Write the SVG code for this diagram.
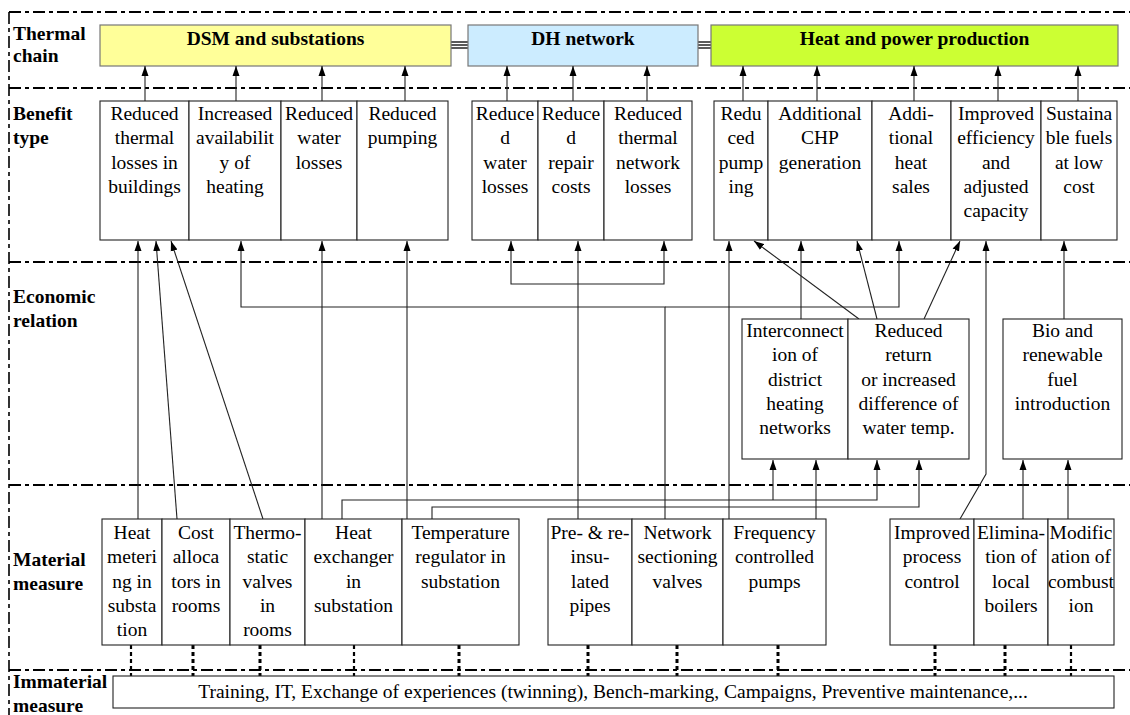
<svg xmlns="http://www.w3.org/2000/svg" width="1130" height="715" viewBox="0 0 1130 715" font-family="'Liberation Serif','Times New Roman',Times,serif">
<style>
text{font-family:"Liberation Serif","Times New Roman",Times,serif;font-size:19.5px;fill:#000}
.lbl{font-weight:bold}
.hd{font-weight:bold;text-anchor:middle}
.c{text-anchor:middle}
.sep{stroke:#000;stroke-width:2;stroke-dasharray:12 4 4 4;fill:none}
.vsep{stroke:#000;stroke-width:1.6;stroke-dasharray:12 4 4 4;fill:none}
.box{fill:#fff;stroke:#222;stroke-width:1.1}
.hbox{stroke:#777;stroke-width:1.2}
.ar{stroke:#222;stroke-width:1.1;fill:none;marker-end:url(#ah)}
.dot{stroke:#000;stroke-width:3;stroke-dasharray:4 3;fill:none}
.dbl{stroke:#000;stroke-width:1.3}
</style>
<defs>
<marker id="ah" markerUnits="userSpaceOnUse" markerWidth="10" markerHeight="8" refX="10" refY="4" orient="auto">
<path d="M0,0.5 L10,4 L0,7.5 z" fill="#000"/>
</marker>
</defs>
<rect width="1130" height="715" fill="#fff"/>

<g id="frame">
<path class="sep" d="M9,12 H1130"/>
<path class="sep" d="M9,88 H1130"/>
<path class="sep" d="M9,262 H1130"/>
<path class="sep" d="M9,485 H1130"/>
<path class="sep" d="M9,670 H1130"/>
<path class="vsep" d="M9,12 V715"/>
</g>

<g id="row-labels">
<text class="lbl" x="13" y="40">Thermal</text>
<text class="lbl" x="13" y="62">chain</text>
<text class="lbl" x="13" y="120">Benefit</text>
<text class="lbl" x="13" y="144">type</text>
<text class="lbl" x="13" y="303">Economic</text>
<text class="lbl" x="13" y="327">relation</text>
<text class="lbl" x="13" y="566">Material</text>
<text class="lbl" x="13" y="590">measure</text>
<text class="lbl" x="13" y="688">Immaterial</text>
<text class="lbl" x="13" y="712">measure</text>
</g>

<g id="hdr-links">
<line class="dbl" x1="451" y1="42" x2="468" y2="42"/>
<line class="dbl" x1="451" y1="45" x2="468" y2="45"/>
<line class="dbl" x1="451" y1="48" x2="468" y2="48"/>
<line class="dbl" x1="698" y1="42" x2="711" y2="42"/>
<line class="dbl" x1="698" y1="45" x2="711" y2="45"/>
<line class="dbl" x1="698" y1="48" x2="711" y2="48"/>
</g>
<g id="hdr-dsm">
<rect class="hbox" x="100" y="25" width="351" height="41" fill="#FFFF99"/>
<text class="hd" x="275.5" y="45">DSM and substations</text>
</g>
<g id="hdr-dh">
<rect class="hbox" x="468" y="25" width="230" height="41" fill="#CCECFF"/>
<text class="hd" x="583" y="45">DH network</text>
</g>
<g id="hdr-hp">
<rect class="hbox" x="711" y="25" width="407" height="41" fill="#CCFF33"/>
<text class="hd" x="914.5" y="45">Heat and power production</text>
</g>

<g id="connectors">
<path class="ar" d="M145,101 V66"/>
<path class="ar" d="M236,101 V66"/>
<path class="ar" d="M322,101 V66"/>
<path class="ar" d="M405,101 V66"/>
<path class="ar" d="M507,101 V66"/>
<path class="ar" d="M573,101 V66"/>
<path class="ar" d="M647,101 V66"/>
<path class="ar" d="M743,101 V66"/>
<path class="ar" d="M817,101 V66"/>
<path class="ar" d="M914,101 V66"/>
<path class="ar" d="M998,101 V66"/>
<path class="ar" d="M1078,101 V66"/>

<path class="ar" d="M138,519 V241"/>
<path class="ar" d="M177,519 L156,241"/>
<path class="ar" d="M263,519 L171,241"/>
<path class="ar" d="M665,519 V307 H241 V241"/>
<path class="ar" d="M665,307 H899 V241"/>
<path class="ar" d="M322,519 V241"/>
<path class="ar" d="M407,519 V241"/>
<path class="ar" d="M578,519 V241"/>
<path class="ar" d="M578,284 H511 V241"/>
<path class="ar" d="M578,284 H664 V241"/>
<path class="ar" d="M729,519 V241"/>
<path class="ar" d="M801,319 V241"/>
<path class="ar" d="M859,319 L754,241"/>
<path class="ar" d="M877,319 L857,241"/>
<path class="ar" d="M924,319 L960,241"/>
<path class="ar" d="M960,519 L986,474 V241"/>
<path class="ar" d="M1064,319 V241"/>

<path class="ar" d="M342,519 V500 H877 V460"/>
<path class="ar" d="M773,500 V460"/>
<path class="ar" d="M432,519 V507 H919 V460"/>
<path class="ar" d="M816,519 V460"/>
<path class="ar" d="M1023,519 V460"/>
<path class="ar" d="M1068,519 V460"/>

<path class="dot" d="M131,645 V676" style="stroke-width:2.2"/>
<path class="dot" d="M193,645 V676"/>
<path class="dot" d="M260,645 V676"/>
<path class="dot" d="M354,645 V676" style="stroke-width:2.2"/>
<path class="dot" d="M459,645 V676"/>
<path class="dot" d="M588,645 V676"/>
<path class="dot" d="M677,645 V676"/>
<path class="dot" d="M778,645 V676"/>
<path class="dot" d="M935,645 V676"/>
<path class="dot" d="M1005,645 V676"/>
<path class="dot" d="M1071,645 V676" style="stroke-width:2.2"/>
</g>

<g id="b-thermal-bldg"><rect class="box" x="100" y="101" width="89" height="139"/>
<text class="c"><tspan x="144.5" y="120">Reduced</tspan><tspan x="144.5" y="144.3">thermal</tspan><tspan x="144.5" y="168.6">losses in</tspan><tspan x="144.5" y="192.9">buildings</tspan></text></g>
<g id="b-availability"><rect class="box" x="189" y="101" width="92" height="139"/>
<text class="c"><tspan x="235" y="120">Increased</tspan><tspan x="235" y="144.3">availabilit</tspan><tspan x="235" y="168.6">y of</tspan><tspan x="235" y="192.9">heating</tspan></text></g>
<g id="b-water-dsm"><rect class="box" x="281" y="101" width="76" height="139"/>
<text class="c"><tspan x="319" y="120">Reduced</tspan><tspan x="319" y="144.3">water</tspan><tspan x="319" y="168.6">losses</tspan></text></g>
<g id="b-pumping-dsm"><rect class="box" x="357" y="101" width="91" height="139"/>
<text class="c"><tspan x="402.5" y="120">Reduced</tspan><tspan x="402.5" y="144.3">pumping</tspan></text></g>

<g id="b-water-dh"><rect class="box" x="472" y="101" width="66" height="139"/>
<text class="c"><tspan x="505" y="120">Reduce</tspan><tspan x="505" y="144.3">d</tspan><tspan x="505" y="168.6">water</tspan><tspan x="505" y="192.9">losses</tspan></text></g>
<g id="b-repair"><rect class="box" x="538" y="101" width="66" height="139"/>
<text class="c"><tspan x="571" y="120">Reduce</tspan><tspan x="571" y="144.3">d</tspan><tspan x="571" y="168.6">repair</tspan><tspan x="571" y="192.9">costs</tspan></text></g>
<g id="b-thermal-net"><rect class="box" x="604" y="101" width="88" height="139"/>
<text class="c"><tspan x="648" y="120">Reduced</tspan><tspan x="648" y="144.3">thermal</tspan><tspan x="648" y="168.6">network</tspan><tspan x="648" y="192.9">losses</tspan></text></g>

<g id="b-pumping-hp"><rect class="box" x="714" y="101" width="54" height="139"/>
<text class="c"><tspan x="741" y="120">Redu</tspan><tspan x="741" y="144.3">ced</tspan><tspan x="741" y="168.6">pump</tspan><tspan x="741" y="192.9">ing</tspan></text></g>
<g id="b-chp"><rect class="box" x="768" y="101" width="104" height="139"/>
<text class="c"><tspan x="820" y="120">Additional</tspan><tspan x="820" y="144.3">CHP</tspan><tspan x="820" y="168.6">generation</tspan></text></g>
<g id="b-heat-sales"><rect class="box" x="872" y="101" width="79" height="139"/>
<text class="c"><tspan x="911" y="120">Addi-</tspan><tspan x="911" y="144.3">tional</tspan><tspan x="911" y="168.6">heat</tspan><tspan x="911" y="192.9">sales</tspan></text></g>
<g id="b-efficiency"><rect class="box" x="951" y="101" width="90" height="139"/>
<text class="c"><tspan x="996" y="120">Improved</tspan><tspan x="996" y="144.3">efficiency</tspan><tspan x="996" y="168.6">and</tspan><tspan x="996" y="192.9">adjusted</tspan><tspan x="996" y="217.2">capacity</tspan></text></g>
<g id="b-fuels"><rect class="box" x="1041" y="101" width="76" height="139"/>
<text class="c"><tspan x="1079" y="120">Sustaina</tspan><tspan x="1079" y="144.3">ble fuels</tspan><tspan x="1079" y="168.6">at low</tspan><tspan x="1079" y="192.9">cost</tspan></text></g>

<g id="e-interconnection"><rect class="box" x="742" y="319" width="106" height="140"/>
<text class="c"><tspan x="795" y="337">Interconnect</tspan><tspan x="795" y="361.3">ion of</tspan><tspan x="795" y="385.6">district</tspan><tspan x="795" y="409.9">heating</tspan><tspan x="795" y="434.2">networks</tspan></text></g>
<g id="e-return-temp"><rect class="box" x="848" y="319" width="121" height="140"/>
<text class="c"><tspan x="908.5" y="337">Reduced</tspan><tspan x="908.5" y="361.3">return</tspan><tspan x="908.5" y="385.6">or increased</tspan><tspan x="908.5" y="409.9">difference of</tspan><tspan x="908.5" y="434.2">water temp.</tspan></text></g>
<g id="e-bio"><rect class="box" x="1003" y="319" width="119" height="140"/>
<text class="c"><tspan x="1062.5" y="337">Bio and</tspan><tspan x="1062.5" y="361.3">renewable</tspan><tspan x="1062.5" y="385.6">fuel</tspan><tspan x="1062.5" y="409.9">introduction</tspan></text></g>

<g id="m-metering"><rect class="box" x="102" y="519" width="60" height="126"/>
<text class="c"><tspan x="132" y="539">Heat</tspan><tspan x="132" y="563.3">meteri</tspan><tspan x="132" y="587.6">ng in</tspan><tspan x="132" y="611.9">substa</tspan><tspan x="132" y="636.2">tion</tspan></text></g>
<g id="m-cost"><rect class="box" x="162" y="519" width="68" height="126"/>
<text class="c"><tspan x="196" y="539">Cost</tspan><tspan x="196" y="563.3">alloca</tspan><tspan x="196" y="587.6">tors in</tspan><tspan x="196" y="611.9">rooms</tspan></text></g>
<g id="m-thermostatic"><rect class="box" x="230" y="519" width="75" height="126"/>
<text class="c"><tspan x="267.5" y="539">Thermo-</tspan><tspan x="267.5" y="563.3">static</tspan><tspan x="267.5" y="587.6">valves</tspan><tspan x="267.5" y="611.9">in</tspan><tspan x="267.5" y="636.2">rooms</tspan></text></g>
<g id="m-exchanger"><rect class="box" x="305" y="519" width="97" height="126"/>
<text class="c"><tspan x="353.5" y="539">Heat</tspan><tspan x="353.5" y="563.3">exchanger</tspan><tspan x="353.5" y="587.6">in</tspan><tspan x="353.5" y="611.9">substation</tspan></text></g>
<g id="m-regulator"><rect class="box" x="402" y="519" width="117" height="126"/>
<text class="c"><tspan x="460.5" y="539">Temperature</tspan><tspan x="460.5" y="563.3">regulator in</tspan><tspan x="460.5" y="587.6">substation</tspan></text></g>

<g id="m-pipes"><rect class="box" x="548" y="519" width="84" height="126"/>
<text class="c"><tspan x="590" y="539">Pre- &amp; re-</tspan><tspan x="590" y="563.3">insu-</tspan><tspan x="590" y="587.6">lated</tspan><tspan x="590" y="611.9">pipes</tspan></text></g>
<g id="m-valves"><rect class="box" x="632" y="519" width="91" height="126"/>
<text class="c"><tspan x="677.5" y="539">Network</tspan><tspan x="677.5" y="563.3">sectioning</tspan><tspan x="677.5" y="587.6">valves</tspan></text></g>
<g id="m-pumps"><rect class="box" x="723" y="519" width="103" height="126"/>
<text class="c"><tspan x="774.5" y="539">Frequency</tspan><tspan x="774.5" y="563.3">controlled</tspan><tspan x="774.5" y="587.6">pumps</tspan></text></g>

<g id="m-process"><rect class="box" x="890" y="519" width="84" height="126"/>
<text class="c"><tspan x="932" y="539">Improved</tspan><tspan x="932" y="563.3">process</tspan><tspan x="932" y="587.6">control</tspan></text></g>
<g id="m-boilers"><rect class="box" x="974" y="519" width="74" height="126"/>
<text class="c"><tspan x="1011" y="539">Elimina-</tspan><tspan x="1011" y="563.3">tion of</tspan><tspan x="1011" y="587.6">local</tspan><tspan x="1011" y="611.9">boilers</tspan></text></g>
<g id="m-combustion"><rect class="box" x="1048" y="519" width="66" height="126"/>
<text class="c"><tspan x="1081" y="539">Modific</tspan><tspan x="1081" y="563.3">ation of</tspan><tspan x="1081" y="587.6">combust</tspan><tspan x="1081" y="611.9">ion</tspan></text></g>

<g id="immaterial"><rect class="box" x="113" y="676" width="1001" height="32" stroke="#555"/>
<text class="c" x="613" y="698">Training, IT, Exchange of experiences (twinning), Bench-marking, Campaigns, Preventive maintenance,...</text></g>
</svg>
